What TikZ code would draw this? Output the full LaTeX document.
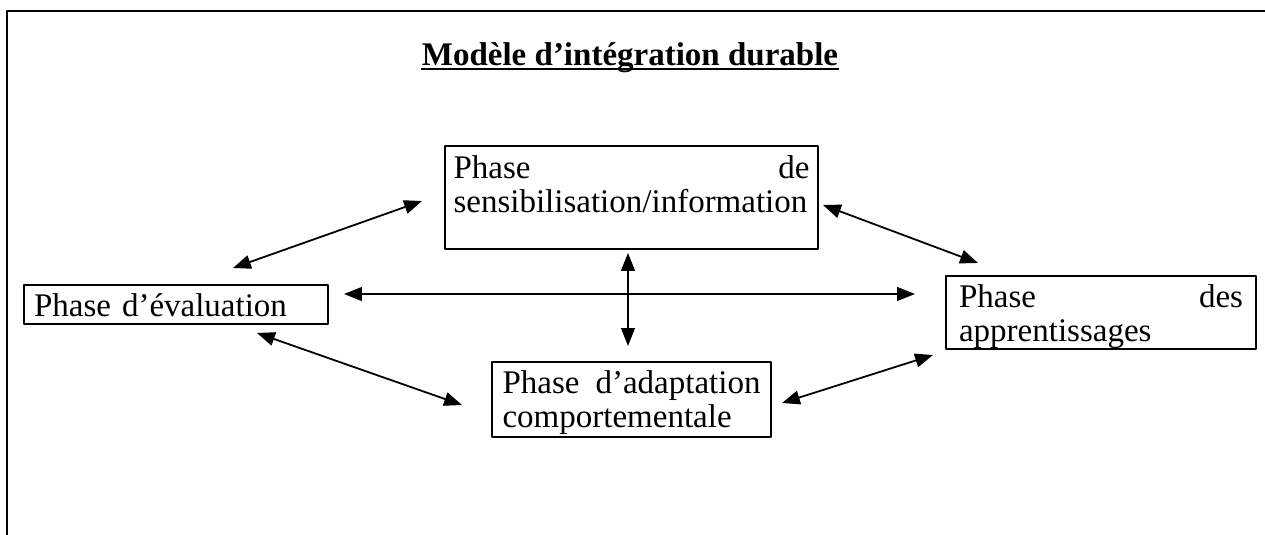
\documentclass[tikz,border=0pt]{standalone}
\usepackage{fontspec}
\setmainfont{Liberation Serif}
\usetikzlibrary{arrows.meta}
\newdimen\pxu
\pxu=0.3636pt

\begin{document}
\begin{tikzpicture}[
  x=0.3636pt,
  y=-0.3636pt,
  line join=round,
  frame/.style={draw=black,line width=0.8pt},
  phase/.style={draw=black,line width=0.75pt,anchor=north west,align=left,
    inner ysep=0pt,font=\fontsize{12pt}{12.4pt}\selectfont},
  link/.style={draw=black,line width=0.65pt,
    {Triangle[length=6.5pt,width=5pt]}-{Triangle[length=6.5pt,width=5pt]}}
]
  \useasboundingbox (0,0) rectangle (1265,535);

  % Page frame, open at the right and at the bottom.
  \draw[frame] (7,535) -- (7,11) -- (1265,11);

  % Title, underlined as in the word processor.
  \node[anchor=base,inner sep=0pt,font=\fontsize{12pt}{12.4pt}\selectfont\bfseries]
    (title) at (630,66) {Modèle d’intégration durable};
  \draw[line width=0.6pt] ([yshift=-1.1pt]title.base west) -- ([yshift=-1.1pt]title.base east);

  % The four phases.
  \node[phase,text width=356\pxu,inner xsep=8.5\pxu,text height=32\pxu,text depth=71\pxu]
    (sens) at (444,145) {Phase\hfill de\\sensibilisation/information};
  \node[phase,text width=284\pxu,inner xsep=10\pxu,text height=31\pxu,text depth=8\pxu]
    (eval) at (23,284) {Phase d’évaluation};
  \node[phase,text width=284\pxu,inner xsep=13\pxu,text height=31\pxu,text depth=42\pxu]
    (appr) at (945,275) {Phase\hfill des\\apprentissages};
  \node[phase,text width=258\pxu,inner xsep=10.5\pxu,text height=31\pxu,text depth=44\pxu]
    (adapt) at (491,361) {Phase\hfill d’adaptation\\comportementale};

  % Arrow ends, kept clear of the boxes.
  \coordinate (se) at (233,268);  \coordinate (es) at (422,201);
  \coordinate (sa) at (823,205);  \coordinate (as) at (978,263);
  \coordinate (ea) at (344,294);  \coordinate (ae) at (915,294);
  \coordinate (sd) at (628,253);  \coordinate (ds) at (628,346);
  \coordinate (ed) at (257,333);  \coordinate (de) at (462,405);
  \coordinate (da) at (782,403);  \coordinate (ad) at (933,355);

  % Two-way links between the phases.
  \draw[link] (se) -- (es);
  \draw[link] (sa) -- (as);
  \draw[link] (ea) -- (ae);
  \draw[link] (sd) -- (ds);
  \draw[link] (ed) -- (de);
  \draw[link] (da) -- (ad);
\end{tikzpicture}
\end{document}
